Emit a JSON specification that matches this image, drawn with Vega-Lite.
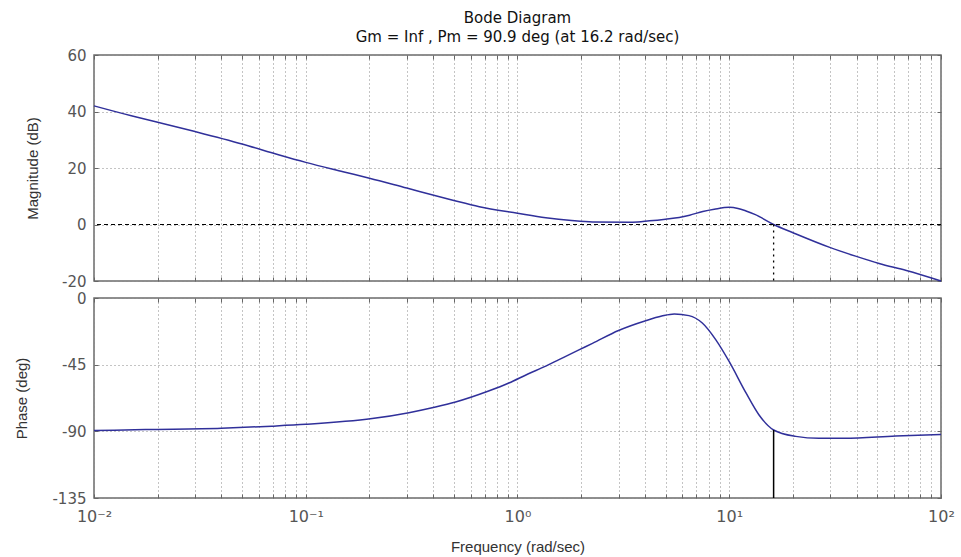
{
  "$schema": "https://vega.github.io/schema/vega-lite/v6.json",
  "padding": {"left": 14, "top": 10, "right": 10, "bottom": 5},
  "background": "white",
  "config": {
    "view": {"stroke": "#6b6b6b", "strokeWidth": 1.5},
    "font": "DejaVu Sans",
    "title": {"font": "DejaVu Sans", "fontSize": 15, "fontWeight": "normal", "color": "#111", "subtitleFont": "DejaVu Sans", "subtitleFontSize": 15, "subtitleColor": "#111", "subtitlePadding": 4, "offset": 3, "anchor": "middle"},
    "axis": {
      "domain": false,
      "labelFont": "DejaVu Sans",
      "labelFontSize": 16,
      "labelColor": "#555",
      "labelOverlap": false,
      "labelFlush": false,
      "titleFont": "Liberation Sans",
      "titleFontSize": 15,
      "titleFontWeight": "normal",
      "titleColor": "#333",
      "gridColor": "#888",
      "gridDash": [1, 3],
      "gridOpacity": 1,
      "gridWidth": 1,
      "tickColor": "#666",
      "tickSize": -4,
      "tickWidth": 1
    }
  },
  "datasets": {
    "magnitude": [
      {"w": 0.01, "db": 42.0},
      {"w": 0.015, "db": 38.5},
      {"w": 0.02, "db": 36.2},
      {"w": 0.03, "db": 32.9},
      {"w": 0.05, "db": 28.5},
      {"w": 0.075, "db": 24.6},
      {"w": 0.1, "db": 22.0},
      {"w": 0.15, "db": 18.7},
      {"w": 0.2, "db": 16.4},
      {"w": 0.3, "db": 12.9},
      {"w": 0.49, "db": 8.7},
      {"w": 0.66, "db": 6.3},
      {"w": 1.0, "db": 4.0},
      {"w": 1.36, "db": 2.4},
      {"w": 1.8, "db": 1.4},
      {"w": 2.26, "db": 0.9},
      {"w": 3.5, "db": 0.8},
      {"w": 4.2, "db": 1.3},
      {"w": 5.0, "db": 1.9},
      {"w": 5.8, "db": 2.5},
      {"w": 6.5, "db": 3.3},
      {"w": 7.5, "db": 4.6},
      {"w": 8.5, "db": 5.4},
      {"w": 10.0, "db": 6.1},
      {"w": 11.0, "db": 5.7},
      {"w": 12.0, "db": 4.8},
      {"w": 13.2, "db": 3.6},
      {"w": 16.2, "db": 0.0},
      {"w": 20.0, "db": -2.9},
      {"w": 29.6, "db": -8.0},
      {"w": 39.5, "db": -11.2},
      {"w": 51.0, "db": -13.8},
      {"w": 68.6, "db": -16.3},
      {"w": 100.0, "db": -20.0}
    ],
    "phase": [
      {"w": 0.01, "deg": -89.5},
      {"w": 0.0175, "deg": -88.8},
      {"w": 0.04, "deg": -87.9},
      {"w": 0.069, "deg": -86.5},
      {"w": 0.1, "deg": -85.3},
      {"w": 0.206, "deg": -81.4},
      {"w": 0.307, "deg": -77.4},
      {"w": 0.41, "deg": -73.6},
      {"w": 0.51, "deg": -70.2},
      {"w": 0.73, "deg": -62.8},
      {"w": 0.91, "deg": -57.4},
      {"w": 1.12, "deg": -51.3},
      {"w": 1.36, "deg": -46.0},
      {"w": 1.57, "deg": -41.6},
      {"w": 1.95, "deg": -35.0},
      {"w": 2.26, "deg": -30.6},
      {"w": 3.0, "deg": -21.9},
      {"w": 4.03, "deg": -15.3},
      {"w": 4.8, "deg": -12.2},
      {"w": 5.5, "deg": -10.8},
      {"w": 6.45, "deg": -11.9},
      {"w": 7.46, "deg": -16.9},
      {"w": 8.63, "deg": -28.1},
      {"w": 10.0, "deg": -43.0},
      {"w": 12.0, "deg": -64.1},
      {"w": 13.8, "deg": -78.8},
      {"w": 16.2, "deg": -89.1},
      {"w": 20.6, "deg": -93.4},
      {"w": 26.5, "deg": -94.7},
      {"w": 35.0, "deg": -94.7},
      {"w": 61.0, "deg": -93.2},
      {"w": 100.0, "deg": -92.1}
    ],
    "crossover": [
      {"w": 16.2, "db_top": 0, "db_bottom": -20, "deg_top": -89.1, "deg_bottom": -135}
    ],
    "zero_db": [
      {"db": 0}
    ]
  },
  "vconcat": [
    {
      "width": 847,
      "height": 226,
      "title": {"text": "Bode Diagram", "subtitle": "Gm = Inf ,  Pm = 90.9 deg (at 16.2 rad/sec)"},
      "layer": [
        {
          "data": {"name": "magnitude"},
          "mark": {"type": "line", "color": "#30309a", "strokeWidth": 1.5, "interpolate": "monotone"},
          "encoding": {
            "x": {"field": "w", "type": "quantitative",
              "scale": {"type": "log", "domain": [0.01, 100], "nice": false},
              "axis": {"orient": "bottom", "title": null, "labels": false,
                "values": [0.01,0.02,0.03,0.04,0.05,0.06,0.07,0.08,0.09,0.1,0.2,0.3,0.4,0.5,0.6,0.7,0.8,0.9,1,2,3,4,5,6,7,8,9,10,20,30,40,50,60,70,80,90,100]}},
            "y": {"field": "db", "type": "quantitative",
              "scale": {"domain": [-20, 60], "nice": false, "zero": false},
              "axis": {"orient": "left", "title": "Magnitude (dB)", "values": [-20, 0, 20, 40, 60], "labelFontSize": 15, "labelPadding": 12, "titlePadding": 21,
                "labelExpr": "replace(datum.label, '−', '-')"}}
          }
        },
        {
          "data": {"name": "zero_db"},
          "mark": {"type": "rule", "color": "#000", "strokeDash": [4, 3], "strokeWidth": 1},
          "encoding": {
            "y": {"field": "db", "type": "quantitative", "axis": null}
          }
        },
        {
          "data": {"name": "crossover"},
          "mark": {"type": "rule", "color": "#000", "strokeDash": [2, 4], "strokeWidth": 1.3},
          "encoding": {
            "x": {"field": "w", "type": "quantitative",
              "axis": {"orient": "top", "title": null, "labels": false, "grid": false,
                "values": [0.01,0.02,0.03,0.04,0.05,0.06,0.07,0.08,0.09,0.1,0.2,0.3,0.4,0.5,0.6,0.7,0.8,0.9,1,2,3,4,5,6,7,8,9,10,20,30,40,50,60,70,80,90,100]}},
            "y": {"field": "db_top", "type": "quantitative",
              "axis": {"orient": "right", "title": null, "labels": false, "grid": false, "values": [-20, 0, 20, 40, 60]}},
            "y2": {"field": "db_bottom"}
          }
        }
      ],
      "resolve": {"axis": {"x": "independent", "y": "independent"}}
    },
    {
      "width": 847,
      "height": 200,
      "layer": [
        {
          "data": {"name": "phase"},
          "mark": {"type": "line", "color": "#30309a", "strokeWidth": 1.5, "interpolate": "monotone"},
          "encoding": {
            "x": {"field": "w", "type": "quantitative",
              "scale": {"type": "log", "domain": [0.01, 100], "nice": false},
              "axis": {"orient": "bottom", "title": "Frequency  (rad/sec)", "titlePadding": 15, "labelPadding": 14,
                "values": [0.01,0.02,0.03,0.04,0.05,0.06,0.07,0.08,0.09,0.1,0.2,0.3,0.4,0.5,0.6,0.7,0.8,0.9,1,2,3,4,5,6,7,8,9,10,20,30,40,50,60,70,80,90,100],
                "labelExpr": "datum.value == 0.01 ? '10⁻²' : datum.value == 0.1 ? '10⁻¹' : datum.value == 1 ? '10⁰' : datum.value == 10 ? '10¹' : datum.value == 100 ? '10²' : ''"}},
            "y": {"field": "deg", "type": "quantitative",
              "scale": {"domain": [-135, 0], "nice": false, "zero": false},
              "axis": {"orient": "left", "title": "Phase (deg)", "values": [-135, -90, -45, 0], "labelFontSize": 15, "labelPadding": 12, "titlePadding": 22,
                "labelExpr": "replace(datum.label, '−', '-')"}}
          }
        },
        {
          "data": {"name": "crossover"},
          "mark": {"type": "rule", "color": "#000", "strokeWidth": 1.5},
          "encoding": {
            "x": {"field": "w", "type": "quantitative",
              "axis": {"orient": "top", "title": null, "labels": false, "grid": false,
                "values": [0.01,0.02,0.03,0.04,0.05,0.06,0.07,0.08,0.09,0.1,0.2,0.3,0.4,0.5,0.6,0.7,0.8,0.9,1,2,3,4,5,6,7,8,9,10,20,30,40,50,60,70,80,90,100]}},
            "y": {"field": "deg_top", "type": "quantitative",
              "axis": {"orient": "right", "title": null, "labels": false, "grid": false, "values": [-135, -90, -45, 0]}},
            "y2": {"field": "deg_bottom"}
          }
        }
      ],
      "resolve": {"axis": {"x": "independent", "y": "independent"}}
    }
  ],
  "spacing": 17,
  "bounds": "flush"
}
